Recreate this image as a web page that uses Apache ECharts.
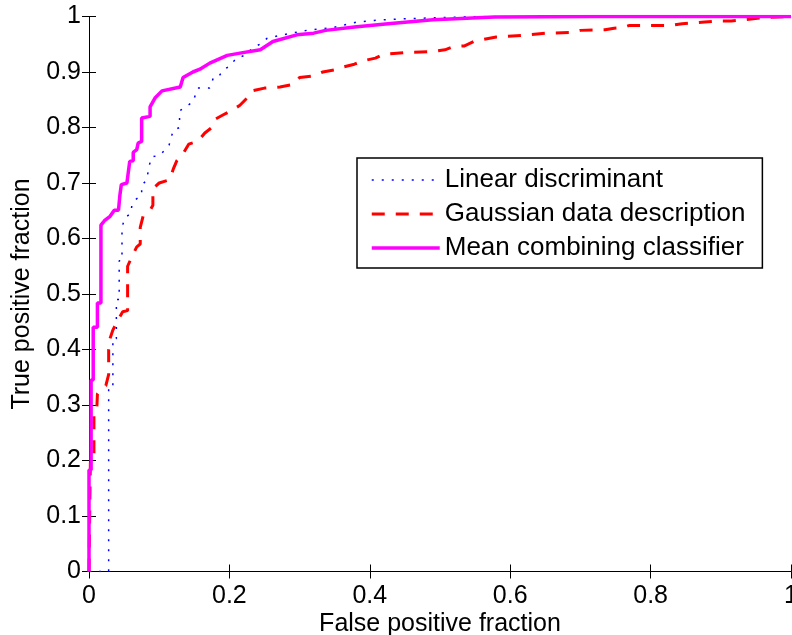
<!DOCTYPE html>
<html>
<head>
<meta charset="utf-8">
<script src="https://cdn.jsdelivr.net/npm/echarts@6/dist/echarts.min.js"></script>
<style>
html,body{margin:0;padding:0;background:#fff;overflow:hidden;}
#chart{width:792px;height:635px;}
</style>
</head>
<body>
<div id="chart"></div>
<script>
// Series names
const seriesNames = ['Linear discriminant', 'Gaussian data description', 'Mean combining classifier'];

// Linear discriminant ROC points [false positive fraction, true positive fraction]
const linearDiscriminant = [
  [0,0],[0.028,0],[0.028,0.33],[0.034,0.33],[0.034,0.42],[0.039,0.42],[0.039,0.49],[0.043,0.49],
  [0.043,0.56],[0.047,0.56],[0.047,0.62],[0.051,0.637],[0.06,0.646],[0.061,0.66],[0.066,0.67],
  [0.075,0.678],[0.075,0.696],[0.082,0.705],[0.086,0.732],[0.089,0.747],[0.101,0.75],[0.114,0.768],
  [0.12,0.795],[0.129,0.8],[0.129,0.83],[0.148,0.846],[0.155,0.871],[0.172,0.871],[0.177,0.889],
  [0.184,0.89],[0.191,0.904],[0.2,0.91],[0.21,0.925],[0.222,0.93],[0.233,0.943],[0.246,0.952],
  [0.254,0.961],[0.276,0.967],[0.31,0.975],[0.347,0.98],[0.382,0.99],[0.406,0.993],[0.45,0.996],
  [0.554,1.0],[1,1]
];

// Gaussian data description ROC points
const gaussianDD = [
  [0,0],[0.002,0],[0.002,0.2],[0.007,0.205],[0.007,0.285],[0.011,0.29],[0.012,0.32],[0.024,0.335],
  [0.027,0.35],[0.028,0.355],[0.028,0.4],[0.03,0.42],[0.034,0.435],[0.04,0.45],[0.048,0.468],
  [0.055,0.47],[0.055,0.55],[0.061,0.567],[0.068,0.585],[0.073,0.59],[0.073,0.62],[0.077,0.64],
  [0.088,0.653],[0.091,0.66],[0.091,0.69],[0.1,0.70],[0.115,0.706],[0.12,0.725],[0.125,0.74],
  [0.135,0.755],[0.142,0.77],[0.155,0.775],[0.165,0.79],[0.175,0.8],[0.18,0.815],[0.19,0.822],
  [0.205,0.832],[0.215,0.84],[0.225,0.853],[0.232,0.866],[0.25,0.871],[0.272,0.873],[0.292,0.878],
  [0.3,0.89],[0.32,0.893],[0.333,0.9],[0.35,0.904],[0.362,0.909],[0.378,0.914],[0.39,0.92],
  [0.408,0.925],[0.42,0.932],[0.45,0.935],[0.49,0.937],[0.507,0.94],[0.52,0.946],[0.535,0.947],
  [0.548,0.955],[0.567,0.96],[0.58,0.963],[0.616,0.966],[0.65,0.97],[0.685,0.971],[0.7,0.975],
  [0.735,0.976],[0.748,0.979],[0.76,0.98],[0.77,0.984],[0.83,0.984],[0.845,0.987],[0.877,0.99],
  [0.9,0.992],[0.915,0.992],[0.94,0.995],[0.96,0.998],[1,1]
];

// Mean combining classifier ROC points
const meanCombining = [
  [0,0],[0,0.183],[0.003,0.183],[0.003,0.345],[0.006,0.345],[0.006,0.44],[0.012,0.44],[0.012,0.484],
  [0.017,0.484],[0.017,0.624],[0.022,0.632],[0.03,0.64],[0.036,0.651],[0.042,0.651],[0.044,0.678],
  [0.046,0.697],[0.054,0.70],[0.058,0.739],[0.063,0.74],[0.063,0.755],[0.068,0.76],[0.07,0.772],
  [0.075,0.775],[0.075,0.817],[0.087,0.82],[0.087,0.837],[0.094,0.853],[0.104,0.866],[0.13,0.873],
  [0.134,0.89],[0.148,0.90],[0.158,0.905],[0.172,0.916],[0.197,0.93],[0.215,0.934],[0.244,0.94],
  [0.262,0.955],[0.296,0.967],[0.32,0.97],[0.337,0.975],[0.378,0.981],[0.426,0.987],[0.49,0.994],
  [0.578,0.999],[0.722,1.0],[1,1]
];

const xLabel = 'False positive fraction';
const yLabel = 'True positive fraction';

const FONT = '"Liberation Sans", Arial, Helvetica, sans-serif';
const chart = echarts.init(document.getElementById('chart'), null, {renderer: 'canvas'});

const axisCommon = {
  type: 'value', min: 0, max: 1,
  axisLine: {show: true, lineStyle: {color: '#000', width: 1}},
  axisTick: {show: true, inside: true, length: 7, lineStyle: {color: '#000', width: 1}},
  splitLine: {show: false}
};

chart.setOption({
  animation: false,
  backgroundColor: '#fff',
  textStyle: {fontFamily: FONT},
  grid: {left: 89, top: 16.5, width: 702, height: 555, containLabel: false, outerBoundsMode: 'none'},
  xAxis: [
    Object.assign({}, axisCommon, {
      position: 'bottom', interval: 0.2,
      axisLabel: {show: true, color: '#000', fontSize: 25, fontFamily: FONT, margin: 12},
      name: xLabel, nameLocation: 'middle', nameGap: 40, nameMoveOverlap: false,
      nameTextStyle: {color: '#000', fontSize: 25, fontFamily: FONT}
    }),
    Object.assign({}, axisCommon, {position: 'top', interval: 0.2, axisLabel: {show: false}})
  ],
  yAxis: [
    Object.assign({}, axisCommon, {
      position: 'left', interval: 0.1,
      axisLabel: {show: true, color: '#000', fontSize: 25, fontFamily: FONT, margin: 8},
      name: yLabel, nameLocation: 'middle', nameGap: 54, nameMoveOverlap: false,
      nameTextStyle: {color: '#000', fontSize: 25, fontFamily: FONT}
    }),
    Object.assign({}, axisCommon, {position: 'right', interval: 0.1, axisLabel: {show: false}})
  ],
  legend: {
    orient: 'vertical',
    left: 357, top: 158,
    padding: [7, 17, 5, 13],
    itemWidth: 68, itemHeight: 14, itemGap: 4,
    backgroundColor: '#fff',
    borderColor: '#000', borderWidth: 1.5,
    itemStyle: {opacity: 0},
    textStyle: {color: '#000', fontSize: 26, fontFamily: FONT, lineHeight: 30},
    data: [
      {name: seriesNames[0], lineStyle: {width: 1.5}},
      {name: seriesNames[1], lineStyle: {width: 3}},
      {name: seriesNames[2], lineStyle: {width: 3.5}}
    ]
  },
  series: [
    {
      name: seriesNames[0], type: 'line', data: linearDiscriminant,
      symbol: 'none', showSymbol: false,
      lineStyle: {color: '#0000ff', width: 1.5, type: [2, 8]},
      itemStyle: {color: '#0000ff'}
    },
    {
      name: seriesNames[1], type: 'line', data: gaussianDD,
      symbol: 'none', showSymbol: false,
      lineStyle: {color: '#ff0000', width: 3, type: [13, 11]},
      itemStyle: {color: '#ff0000'}
    },
    {
      name: seriesNames[2], type: 'line', data: meanCombining,
      symbol: 'none', showSymbol: false,
      lineStyle: {color: '#ff00ff', width: 3.5},
      itemStyle: {color: '#ff00ff'}
    }
  ]
});
</script>
</body>
</html>
